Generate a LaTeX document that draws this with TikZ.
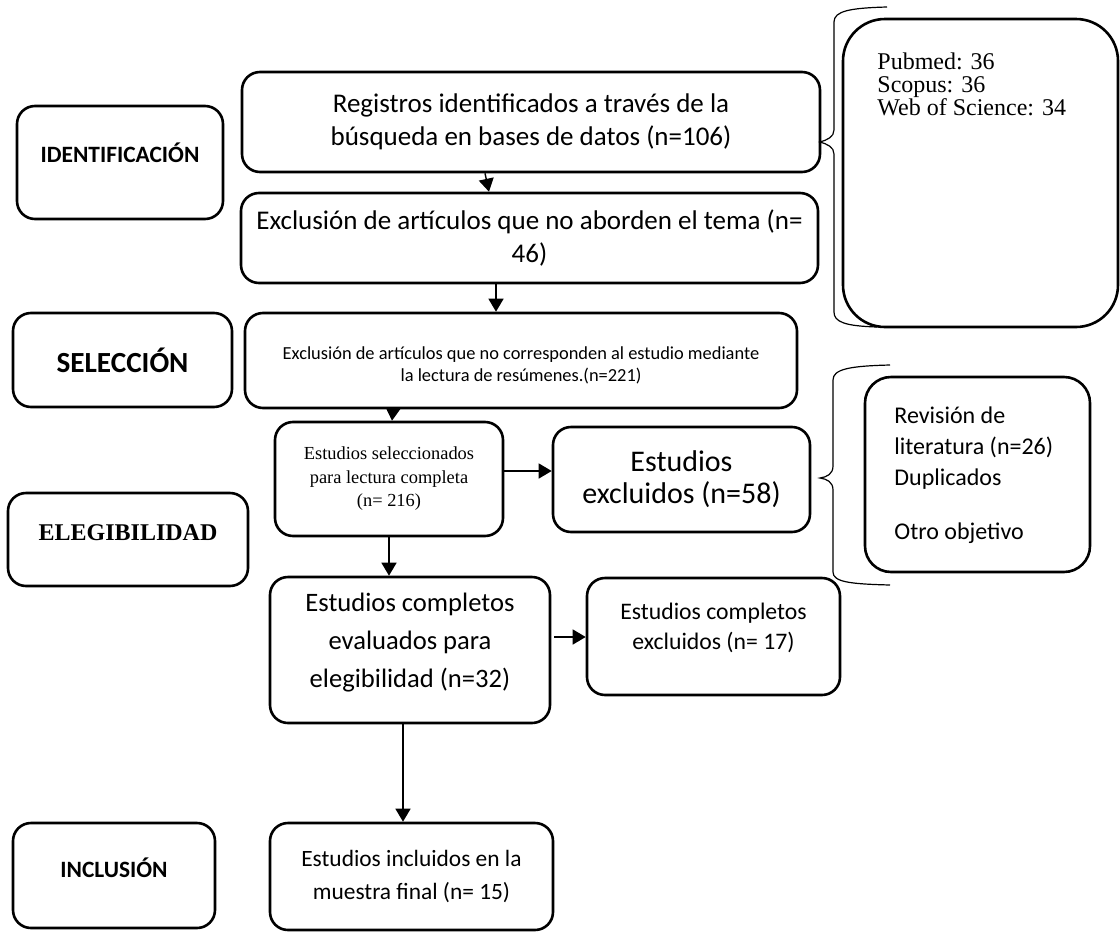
\documentclass[tikz,border=0pt]{standalone}
\usepackage{fontspec}
\setmainfont{Carlito}
\newfontfamily\tnr{Liberation Serif}
\usetikzlibrary{arrows.meta}
\newcommand{\tam}[2]{\fontsize{#1}{#2}\selectfont}

\begin{document}
\begin{tikzpicture}[x=0.5pt,y=-0.5pt,
    caja/.style={draw, line width=1.3pt, rounded corners=9pt, align=center, inner sep=0pt},
    fase/.style={caja, font=\bfseries\tam{11.7}{14}},
    flecha/.style={line width=0.7pt, -{Triangle[length=6.5pt,width=7.5pt]}},
    llave/.style={line width=0.6pt}]
  % Diagrama de flujo PRISMA: fases a la izquierda, registros al centro
  \useasboundingbox (0,0) rectangle (1120,932);
  % fases
  \node[fase, minimum width=103pt, minimum height=56.5pt, text depth=10pt] (ident) at (120,162.5) {IDENTIFICACIÓN};
  \node[fase, font=\bfseries\tam{14.6}{17}, minimum width=109.5pt, minimum height=47pt] (selecc) at (122.5,360) {SELECCIÓN};
  \node[fase, font=\tnr\bfseries\tam{12}{14}, minimum width=120pt, minimum height=46.5pt, text depth=7pt] (eleg) at (128,539.5) {ELEGIBILIDAD};
  \node[fase, minimum width=101pt, minimum height=52.5pt, text depth=8pt] (inclus) at (114,875.5) {INCLUSIÓN};
  % registros
  \node[caja, font=\tam{13.5}{16.5}, minimum width=289pt, minimum height=50pt] (reg) at (531,122) {Registros identificados a través de la\\búsqueda en bases de datos (n=106)};
  \node[caja, font=\tam{13.5}{16.5}, minimum width=288.5pt, minimum height=45pt] (ex46) at (529.5,238) {Exclusión de artículos que no aborden el tema (n=\\46)};
  \node[caja, minimum width=276pt, minimum height=47.5pt] (ex221) at (521,360.5) {};
  \node[font=\tam{9.2}{11}, align=center] (ex221T) at ([yshift=-2.5pt]ex221.center) {Exclusión de artículos que no corresponden al estudio mediante\\la lectura de resúmenes.(n=221)};
  \node[caja, font=\tnr\tam{9.2}{11.75}, minimum width=114pt, minimum height=57pt] (selec) at (389,479) {Estudios seleccionados\\para lectura completa\\(n= 216)};
  \node[caja, font=\tam{15}{16}, minimum width=128.5pt, minimum height=52.5pt] (ex58) at (681.5,479.5) {Estudios\\excluidos (n=58)};
  \node[caja, minimum width=140pt, minimum height=73pt] (compl) at (410,650) {};
  \node[font=\tam{13.3}{19}, align=center] (complT) at ([yshift=3.5pt]compl.center) {Estudios completos\\evaluados para\\elegibilidad (n=32)};
  \node[caja, minimum width=126.5pt, minimum height=58.5pt] (cexcl) at (713.5,636.5) {};
  \node[font=\tam{11.85}{15}, align=center] (cexclT) at ([yshift=4.25pt]cexcl.center) {Estudios completos\\excluidos (n= 17)};
  \node[caja, font=\tam{11.7}{16.5}, minimum width=141.5pt, minimum height=53.5pt] (incl) at (411.5,876.5) {Estudios incluidos en la\\muestra final (n= 15)};
  % cajas de detalle
  \node[caja, rounded corners=21pt, minimum width=137.5pt, minimum height=154pt] (pub) at (980.5,173) {};
  \node[font=\tnr\tam{12}{11.5}, align=left, anchor=north west, inner sep=0pt] (pubT) at (877,52) {Pubmed: 36\\Scopus: 36\\Web of Science: 34};
  \node[caja, rounded corners=13pt, minimum width=112.5pt, minimum height=97.5pt] (rev) at (977.5,474.5) {};
  \node[font=\tam{12}{15.5}, align=left, anchor=north west, inner sep=0pt] (revT) at (894,406) {Revisión de\\literatura (n=26)\\Duplicados\\[11.5pt]Otro objetivo};
  % llaves
  \draw[llave] (887,7) .. controls (850,8) and (834,11) .. (834,22) -- (834,130) .. controls (834,137) and (827,140) .. (820,142) .. controls (827,144) and (834,147) .. (834,154) -- (834,312) .. controls (834,322) and (845,326) .. (877,327);
  \draw[llave] (890,365) .. controls (850,366) and (833,369) .. (833,380) -- (833,466) .. controls (833,474) and (827,477) .. (820,478) .. controls (827,479) and (833,482) .. (833,490) -- (833,572) .. controls (833,582) and (850,584) .. (890,585);
  % flechas
  \draw[flecha] ([xshift=-23pt]reg.south) -- ([xshift=-20.25pt]ex46.north);
  \draw[flecha] ([xshift=-16.75pt]ex46.south) -- ([xshift=-12.5pt]ex221.north);
  \draw[flecha] ([xshift=-64pt]ex221.south) -- ([xshift=1.5pt]selec.north);
  \draw[flecha] ([yshift=4pt]selec.east) -- ([yshift=4pt]selec.east -| ex58.west);
  \draw[flecha] (selec.south) -- (selec.south |- compl.north);
  \draw[flecha] ([xshift=1.5pt,yshift=6.5pt]compl.east) -- ([yshift=6.5pt]compl.east -| cexcl.west);
  \draw[flecha] ([xshift=-3.5pt]compl.south) -- ([xshift=-3.5pt]compl.south |- incl.north);
\end{tikzpicture}
\end{document}
